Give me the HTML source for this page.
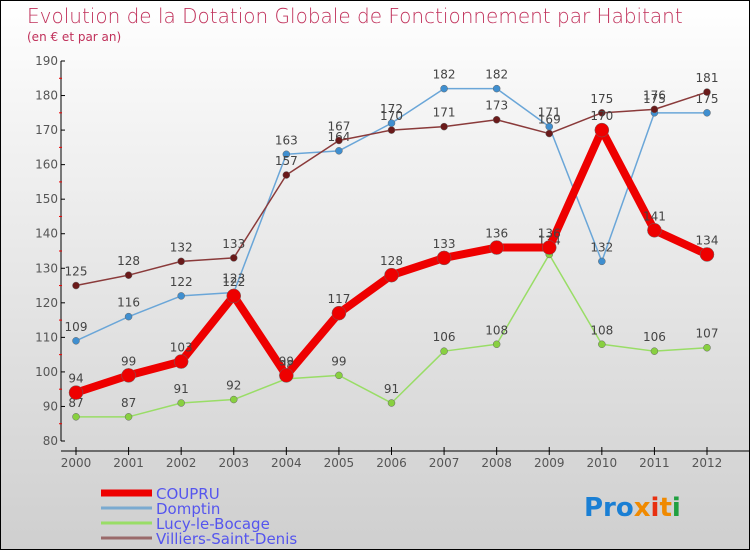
<!DOCTYPE html>
<html><head><meta charset="utf-8"><style>
body{margin:0;}
#c{width:748px;height:548px;border:1px solid #000;background:linear-gradient(#fff,#f2f2f2 25%,#cfcfcf);position:relative;font-family:"DejaVu Sans","Liberation Sans",sans-serif;overflow:hidden}
svg{position:absolute;left:0;top:0}
</style></head><body>
<div id="c">
<svg id="s" width="750" height="550">
<text x="26" y="22" font-size="20" fill="#c0305a" font-weight="200">Evolution de la Dotation Globale de Fonctionnement par Habitant</text>
<text x="26" y="40" font-size="12" fill="#c0305a">(en € et par an)</text>
<text x="583" y="515" font-size="26" font-weight="bold"><tspan fill="#1a7fd4">Pro</tspan><tspan fill="#f08a00">x</tspan><tspan fill="#1a7fd4"></tspan><tspan fill="#e83010">i</tspan><tspan fill="#f08a00">t</tspan><tspan fill="#20a040">i</tspan></text>
</svg></div>
<script>
const years=[2000,2001,2002,2003,2004,2005,2006,2007,2008,2009,2010,2011,2012];
const yTicks=[80,90,100,110,120,130,140,150,160,170,180,190];
const coupru=[94,99,103,122,99,117,128,133,136,136,170,141,134];
const domptin=[109,116,122,123,163,164,172,182,182,171,132,175,175];
const lucy=[87,87,91,92,98,99,91,106,108,134,108,106,107];
const villiers=[125,128,132,133,157,167,170,171,173,169,175,176,181];
const seriesNames=["COUPRU","Domptin","Lucy-le-Bocage","Villiers-Saint-Denis"];
const s=document.getElementById('s');const NS='http://www.w3.org/2000/svg';
function X(i){return 75+i*(706-75)/(years.length-1);}
function Y(v){return 440-(v-80)*380/110;}
function el(t,a,p){const e=document.createElementNS(NS,t);for(const k in a)e.setAttribute(k,a[k]);(p||s).appendChild(e);return e;}
let e;
e=el('line',{x1:60,y1:60,x2:60,y2:440,stroke:'#000'});


e=el('line',{x1:60,y1:450,x2:750,y2:450,stroke:'#000'});


yTicks.forEach((v,i)=>{
 el('line',{x1:60,y1:Y(v),x2:64,y2:Y(v),stroke:'#000'});
 if(i<yTicks.length-1)el('line',{x1:58,y1:Y(v+5),x2:61,y2:Y(v+5),stroke:'#e00'});
 e=el('text',{x:57,y:Y(v)+4,'font-size':12,fill:'#555','text-anchor':'end'});e.textContent=v;
 
 
});
years.forEach((y,i)=>{
 el('line',{x1:X(i),y1:446,x2:X(i),y2:454,stroke:'#000'});
 e=el('text',{x:X(i),y:466,'font-size':12,fill:'#555','text-anchor':'middle'});e.textContent=y;
 
 
});
function series(d,col,w,r,dot,name){
 e=el('polyline',{points:d.map((v,i)=>X(i)+','+Y(v)).join(' '),fill:'none',stroke:col,'stroke-width':w,'stroke-linejoin':'round'});
 
 
 d.forEach((v,i)=>{
  e=el('circle',{cx:X(i),cy:Y(v),r:r,fill:dot,stroke:'#666','stroke-width':0.5});
  
  
  e=el('text',{x:X(i),y:Y(v)-10,'font-size':12,fill:'#444','text-anchor':'middle'});e.textContent=v;
  
  
 });
}
series(lucy,'#99dd66',1.5,3.5,'#88d040','lucy');
series(domptin,'#6aa6d8',1.5,3.5,'#3f8fd0','domptin');
series(villiers,'#8a3a3a',1.5,3.5,'#6a1a1a','villiers');
series(coupru,'#ee0000',8,7,'#ee0000','coupru');
const legCols=['#ee0000','#7aaad0','#99dd66','#9a6a6a'];const legW=[7,3,3,3];
seriesNames.forEach((n,i)=>{
 const y=492+i*15;
 e=el('line',{x1:100,y1:y,x2:151,y2:y,stroke:legCols[i],'stroke-width':legW[i]});
 
 
 e=el('text',{x:155,y:y+6,'font-size':15,fill:'#5555ee'});e.textContent=n;
 
 
});
</script>
</body></html>
